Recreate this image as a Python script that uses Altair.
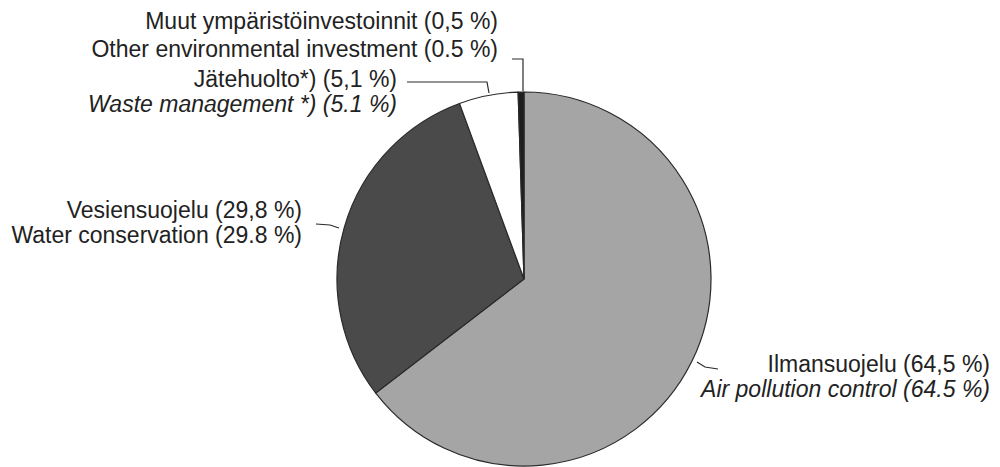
import altair as alt
import pandas as pd

# ---- data ----
categories = ["Ilmansuojelu", "Vesiensuojelu", "Jätehuolto", "Muut"]
shares = [64.5, 29.8, 5.1, 0.5]
fills = ["#a5a5a5", "#4a4a4a", "#ffffff", "#1e1e1e"]

label_fi = ["Ilmansuojelu (64,5 %)", "Vesiensuojelu (29,8 %)",
            "Jätehuolto*) (5,1 %)", "Muut ympäristöinvestoinnit (0,5 %)"]
label_en = ["Air pollution control (64.5 %)", "Water conservation (29.8 %)",
            "Waste management *) (5.1 %)", "Other environmental investment (0.5 %)"]

# ---- layout (pixels inside the chart) ----
OFF = 8
CX, CY, R = 524 - OFF, 279 - OFF, 187
FS = 23
# label anchor positions: (x, y_fi, y_en, italic_en)
label_pos = [
    (990, 365, 390, True),
    (302, 211, 236, False),
    (397, 80, 105, True),
    (498, 22, 50, False),
]
connectors = [
    [(697, 362), (705, 367), (718, 369)],
    [(316, 224), (330, 225), (339, 228)],
    [(407, 82), (487, 82), (489, 93)],
    [(512, 59), (523, 59), (523, 91)],
]

pie_df = pd.DataFrame({"cat": categories, "share": shares,
                       "ord": list(range(len(categories)))})

pie = alt.Chart(pie_df).mark_arc(
    radius=R, stroke="#2a2a2a", strokeWidth=1.2
).encode(
    theta=alt.Theta("share:Q", stack=True),
    order=alt.Order("ord:Q"),
    color=alt.Color("cat:N", scale=alt.Scale(domain=categories, range=fills), legend=None),
    x=alt.value(CX), y=alt.value(CY),
)

rows = []
for i, (x, yf, ye, it) in enumerate(label_pos):
    rows.append({"t": label_fi[i], "x": x - OFF, "y": yf - OFF, "style": "normal"})
    rows.append({"t": label_en[i], "x": x - OFF, "y": ye - OFF, "style": "italic" if it else "normal"})
lab_df = pd.DataFrame(rows)

def text_layer(style):
    return alt.Chart(lab_df[lab_df["style"] == style]).mark_text(
        align="right", baseline="middle", font="Liberation Sans", fontSize=FS,
        fontStyle=style, color="#222222"
    ).encode(
        x=alt.X("x:Q", scale=None), y=alt.Y("y:Q", scale=None), text="t:N"
    )

line_rows = []
for k, pts in enumerate(connectors):
    for j, (px, py) in enumerate(pts):
        line_rows.append({"k": k, "j": j, "x": px - OFF, "y": py - OFF})
line_df = pd.DataFrame(line_rows)

lines = alt.Chart(line_df).mark_line(color="#2a2a2a", strokeWidth=1.2).encode(
    x=alt.X("x:Q", scale=None), y=alt.Y("y:Q", scale=None),
    detail="k:N", order="j:Q"
)

chart = alt.layer(pie, lines, text_layer("normal"), text_layer("italic")).properties(
    width=984, height=459, autosize=alt.AutoSizeParams(type="none"), padding=0,
    background="white"
).configure_view(stroke=None)

chart.save("out.html", embed_options={"renderer": "svg", "actions": False})
